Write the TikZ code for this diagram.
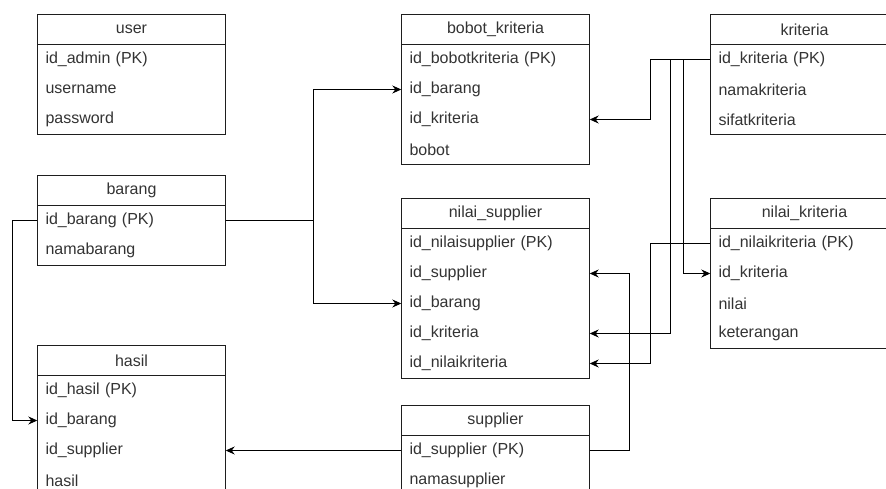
\documentclass[tikz,border=0pt]{standalone}
\usepackage{fontspec}
\setmainfont{Liberation Sans}
\usepackage{tikz}
\usetikzlibrary{positioning,fit,arrows.meta}
\definecolor{erdtext}{RGB}{51,51,51}
\definecolor{erdline}{RGB}{30,30,30}
\tikzset{
  tblhead/.style={draw=erdline, line width=1pt, minimum width=188pt, minimum height=30pt,
    inner sep=0pt, text=erdtext, font=\fontsize{16}{19}\selectfont},
  tblrow/.style={minimum height=30pt, text width=172pt, inner xsep=8pt, inner ysep=0pt,
    align=left, text=erdtext, font=\fontsize{16}{19}\selectfont},
  tblbody/.style={draw=erdline, line width=1pt, inner sep=0pt},
  link/.style={draw=black, line width=1pt, >={Stealth[length=9pt,width=8pt,inset=3pt]}, ->}
}

\begin{document}
\begin{tikzpicture}[x=1pt, y=-1pt, node distance=30pt]
    \useasboundingbox (0,0) rectangle (886,489);
    \clip (0,0) rectangle (886,489);
    % user
    \node [tblhead] (user) at (131.5,29.5) {user};
    \node [tblrow, below of=user] (u1) {id\_admin (PK)};
    \node [tblrow, below of=u1] (u2) {username};
    \node [tblrow, below of=u2] (u3) {password};
    \node [tblbody, fit=(u1)(u3)] (userbox) {};
    % barang
    \node [tblhead] (barang) at (131.5,190.5) {barang};
    \node [tblrow, below of=barang] (b1) {id\_barang (PK)};
    \node [tblrow, below of=b1] (b2) {namabarang};
    \node [tblbody, fit=(b1)(b2)] (barangbox) {};
    % hasil
    \node [tblhead] (hasil) at (131.5,360.5) {hasil};
    \node [tblrow, below of=hasil] (h1) {id\_hasil (PK)};
    \node [tblrow, below of=h1] (h2) {id\_barang};
    \node [tblrow, below of=h2] (h3) {id\_supplier};
    \node [tblrow, below of=h3] (h4) {hasil};
    \node [tblbody, fit=(h1)(h4)] (hasilbox) {};
    % bobot_kriteria
    \node [tblhead] (bobot) at (495.5,29.5) {bobot\_kriteria};
    \node [tblrow, below of=bobot] (bk1) {id\_bobotkriteria (PK)};
    \node [tblrow, below of=bk1] (bk2) {id\_barang};
    \node [tblrow, below of=bk2] (bk3) {id\_kriteria};
    \node [tblrow, below of=bk3] (bk4) {bobot};
    \node [tblbody, fit=(bk1)(bk4)] (bobotbox) {};
    % nilai_supplier
    \node [tblhead] (nsup) at (495.5,213.5) {nilai\_supplier};
    \node [tblrow, below of=nsup] (ns1) {id\_nilaisupplier (PK)};
    \node [tblrow, below of=ns1] (ns2) {id\_supplier};
    \node [tblrow, below of=ns2] (ns3) {id\_barang};
    \node [tblrow, below of=ns3] (ns4) {id\_kriteria};
    \node [tblrow, below of=ns4] (ns5) {id\_nilaikriteria};
    \node [tblbody, fit=(ns1)(ns5)] (nsupbox) {};
    % supplier
    \node [tblhead] (supplier) at (495.5,420.5) {supplier};
    \node [tblrow, below of=supplier] (sp1) {id\_supplier (PK)};
    \node [tblrow, below of=sp1] (sp2) {namasupplier};
    \node [tblbody, fit=(sp1)(sp2)] (supplierbox) {};
    % kriteria
    \node [tblhead] (kriteria) at (804.5,29.5) {kriteria};
    \node [tblrow, below of=kriteria] (k1) {id\_kriteria (PK)};
    \node [tblrow, below of=k1] (k2) {namakriteria};
    \node [tblrow, below of=k2] (k3) {sifatkriteria};
    \node [tblbody, fit=(k1)(k3)] (kriteriabox) {};
    % nilai_kriteria
    \node [tblhead] (nkrit) at (804.5,213.5) {nilai\_kriteria};
    \node [tblrow, below of=nkrit] (nk1) {id\_nilaikriteria (PK)};
    \node [tblrow, below of=nk1] (nk2) {id\_kriteria};
    \node [tblrow, below of=nk2] (nk3) {nilai};
    \node [tblrow, below of=nk3] (nk4) {keterangan};
    \node [tblbody, fit=(nk1)(nk4)] (nkritbox) {};
    % relations
    \draw [link] (b1.east) -- ++(88,0) |- (bk2.west);
    \draw [link] (b1.east) -- ++(88,0) |- (ns3.west);
    \draw [link] (b1.west) -- ++(-25,0) |- (h2.west);
    \draw [link] (sp1.west) -- (h3.east);
    \draw [link] (sp1.east) -- ++(40,0) |- (ns2.east);
    \draw [link] (k1.west) -- ++(-60,0) |- (bk3.east);
    \draw [link] (k1.west) -- ++(-40,0) |- (ns4.east);
    \draw [link] (k1.west) -- ++(-27,0) |- (nk2.west);
    \draw [link] (nk1.west) -- ++(-60,0) |- (ns5.east);
\end{tikzpicture}
\end{document}
